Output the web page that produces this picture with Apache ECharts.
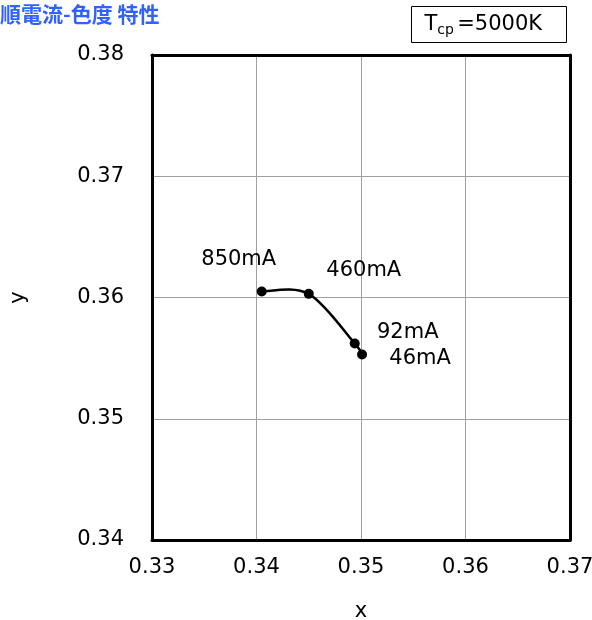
<!DOCTYPE html>
<html><head><meta charset="utf-8">
<script src="https://cdn.jsdelivr.net/npm/echarts@6/dist/echarts.min.js"></script>
<style>html,body{margin:0;padding:0;background:#fff}#c{width:592px;height:620px}</style>
</head><body><div id="c"></div>
<script>
const currents = ['850mA', '460mA', '92mA', '46mA'];
const xValues = [0.3405, 0.3450, 0.3494, 0.3501];
const yValues = [0.3605, 0.3603, 0.3562, 0.3553];
const xTicks = [0.33, 0.34, 0.35, 0.36, 0.37];
const yTicks = [0.34, 0.35, 0.36, 0.37, 0.38];

const labelOffsets = [[-23, -32], [55, -23], [53, -11], [58, 4]];
const font = 'DejaVu Sans, Verdana, sans-serif';
const points = xValues.map((x, i) => [x, yValues[i]]);

function smoothPath(params, api) {
  if (params.dataIndex !== 0) return null;
  const p = points.map(v => api.coord(v));
  const n = p.length;
  let d = 'M' + p[0][0] + ' ' + p[0][1];
  for (let i = 0; i < n - 1; i++) {
    const p0 = p[Math.max(i - 1, 0)], p1 = p[i], p2 = p[i + 1], p3 = p[Math.min(i + 2, n - 1)];
    const c1 = [p1[0] + (p2[0] - p0[0]) / 6, p1[1] + (p2[1] - p0[1]) / 6];
    const c2 = [p2[0] - (p3[0] - p1[0]) / 6, p2[1] - (p3[1] - p1[1]) / 6];
    d += ' C' + c1[0] + ' ' + c1[1] + ' ' + c2[0] + ' ' + c2[1] + ' ' + p2[0] + ' ' + p2[1];
  }
  return {type: 'path', shape: {pathData: d}, style: {stroke: '#000', lineWidth: 2.5, fill: null}};
}

const edgeAxis = {
  axisLine: {show: true, lineStyle: {color: '#000', width: 3}},
  axisTick: {show: false}, axisLabel: {show: false}, splitLine: {show: false}
};

const chart = echarts.init(document.getElementById('c'));
chart.setOption({
  animation: false,
  title: {
    text: '順電流-色度 特性', left: -5, top: -1,
    textStyle: {color: '#2f62ff', fontSize: 21, fontWeight: 'bold', fontFamily: 'Noto Sans CJK JP'}
  },
  grid: {left: 152, right: 22, top: 55, bottom: 80, containLabel: false, outerBoundsMode: 'none'},
  xAxis: [{
    type: 'value', min: xTicks[0], max: xTicks[xTicks.length - 1], interval: 0.01,
    name: 'x', nameLocation: 'middle', nameGap: 61,
    nameTextStyle: {color: '#000', fontSize: 21, fontFamily: font},
    axisLine: {show: true, lineStyle: {color: '#000', width: 3}},
    axisTick: {show: false},
    axisLabel: {margin: 17, color: '#000', fontSize: 21, fontFamily: font, formatter: v => v.toFixed(2)},
    splitLine: {show: true, lineStyle: {color: '#a0a0a0', width: 1}}
  }, Object.assign({type: 'value', position: 'top', min: xTicks[0], max: xTicks[xTicks.length - 1]}, edgeAxis)],
  yAxis: [{
    type: 'value', min: yTicks[0], max: yTicks[yTicks.length - 1], interval: 0.01,
    name: 'y', nameLocation: 'middle', nameGap: 123, nameRotate: 90,
    nameTextStyle: {color: '#000', fontSize: 21, fontFamily: font},
    axisLine: {show: true, lineStyle: {color: '#000', width: 3}},
    axisTick: {show: false},
    axisLabel: {margin: 28, color: '#000', fontSize: 21, fontFamily: font, formatter: v => v.toFixed(2)},
    splitLine: {show: true, lineStyle: {color: '#a0a0a0', width: 1}}
  }, Object.assign({type: 'value', position: 'right', min: yTicks[0], max: yTicks[yTicks.length - 1]}, edgeAxis)],
  series: [{
    type: 'custom', renderItem: smoothPath, data: points, z: 2, silent: true
  }, {
    type: 'scatter', z: 3,
    symbol: 'circle', symbolSize: 10,
    itemStyle: {color: '#000', opacity: 1},
    data: points.map((v, i) => ({
      value: v,
      label: {show: true, formatter: currents[i], position: 'inside', offset: labelOffsets[i],
        color: '#000', opacity: 1, fontSize: 21, fontFamily: font}
    }))
  }],
  graphic: [{
    type: 'group', left: 411, top: 6,
    children: [
      {type: 'rect', shape: {x: 0, y: 0, width: 155, height: 36}, style: {fill: '#fff', stroke: '#000', lineWidth: 1}},
      {type: 'text', x: 13, y: 5, style: {
        text: '{t|T}{s|cp} {t|=5000K}',
        rich: {
          t: {fontSize: 21, fontFamily: font, fill: '#000', color: '#000'},
          s: {fontSize: 14, fontFamily: font, fill: '#000', color: '#000', padding: [12, 0, 0, 0]}
        }
      }}
    ]
  }]
});
</script></body></html>
